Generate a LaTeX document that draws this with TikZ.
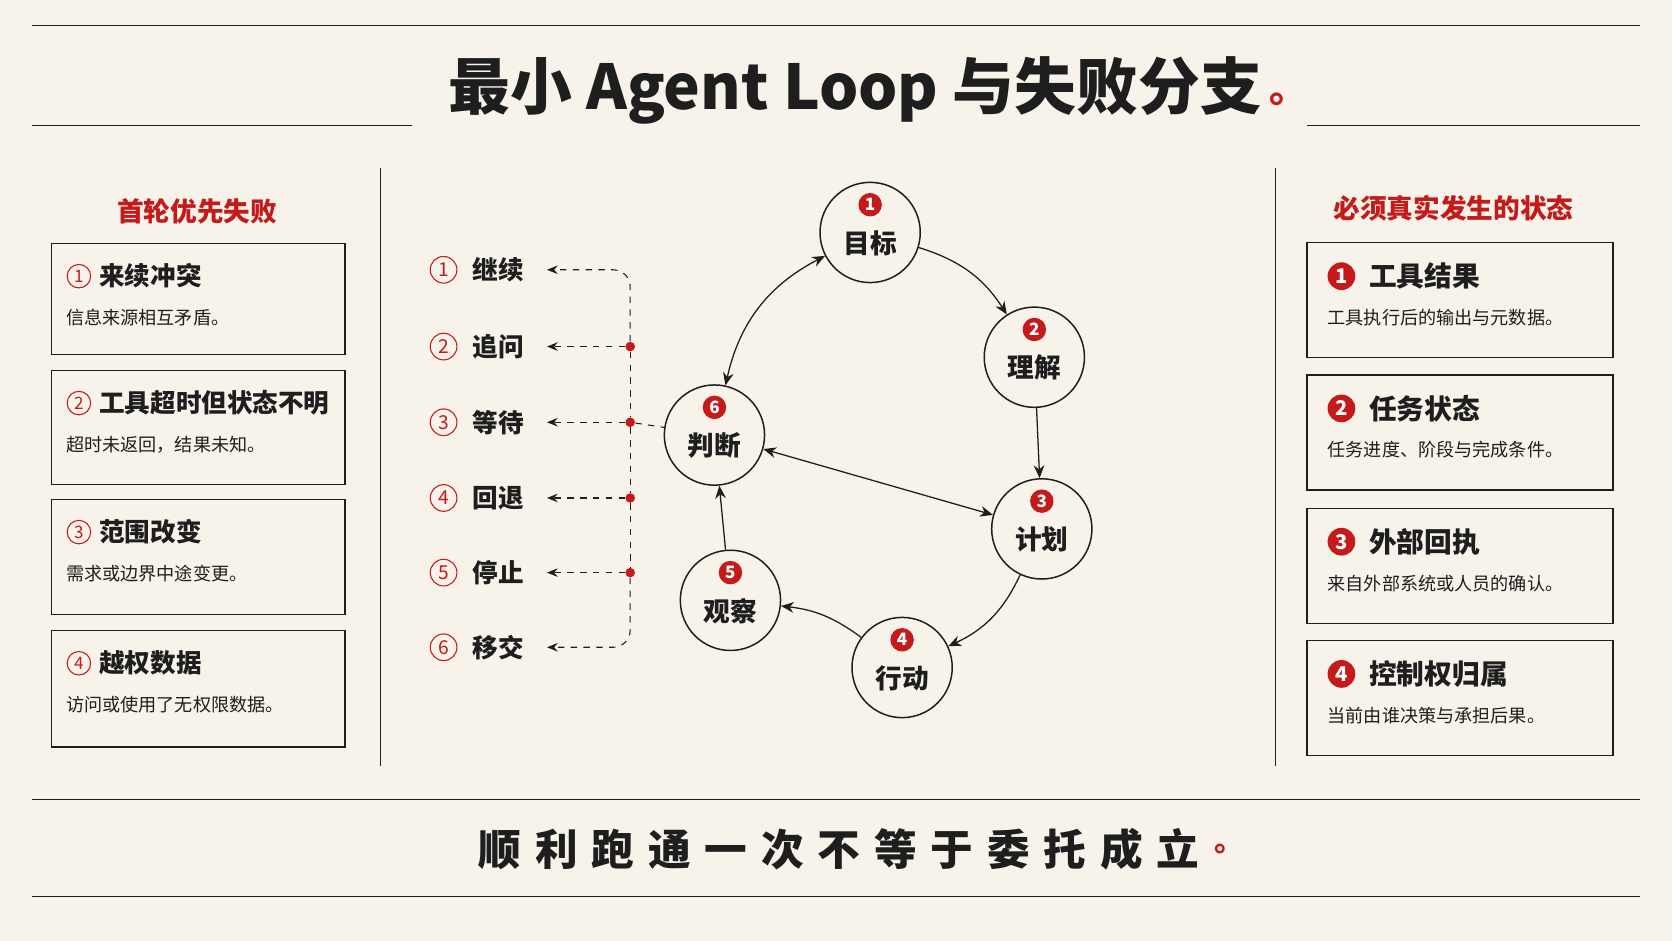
\documentclass[tikz,border=0pt]{standalone}
\usepackage{fontspec}
\setmainfont{Noto Sans CJK SC}
\usetikzlibrary{arrows.meta}
\definecolor{bg}{HTML}{F7F3EA}
\definecolor{rd}{HTML}{C41A1A}
\definecolor{ink}{HTML}{1E1E1E}
\begin{document}
\begin{tikzpicture}[x=0.5pt,y=-0.5pt,
  rule/.style={ink,line width=0.6pt},
  box/.style={draw=ink,line width=0.6pt,fill=bg,minimum width=137.5pt,anchor=north west},
  ring/.style={circle,draw=ink,line width=0.7pt,minimum size=47pt,inner sep=0},
  badge/.style={circle,fill=rd,text=white,inner sep=0,minimum size=11pt,font=\bfseries\fontsize{8}{8}\selectfont},
  obadge/.style={circle,draw=rd,text=rd,line width=0.5pt,inner sep=0,minimum size=11pt,font=\fontsize{8}{8}\selectfont},
  nlab/.style={font=\bfseries\fontsize{12.5}{12.5}\selectfont,text=ink},
  ttl/.style={font=\bfseries\fontsize{12}{12}\selectfont,text=ink,anchor=west},
  dsc/.style={font=\fontsize{8.5}{8.5}\selectfont,text=ink,anchor=west},
  arr/.style={-{Stealth[length=6pt,width=5pt]},ink,line width=0.6pt},
  darr/.style={-{Stealth[length=5pt,width=4pt]},ink,dashed,line width=0.5pt},
  dline/.style={ink,dashed,line width=0.5pt},
  dot/.style={circle,fill=rd,inner sep=0,minimum size=4.5pt}]
\fill[bg] (0,0) rectangle (1568,882);
\useasboundingbox (0,0) rectangle (1568,882);
% title
\draw[rule] (30,24) -- (1538,24);
\draw[rule] (30,118) -- (386,118);
\draw[rule] (1226,118) -- (1538,118);
\node[font=\bfseries\fontsize{29}{29}\selectfont,text=ink] (title) at (802,85) {最小 Agent Loop 与失败分支};
\node[font=\bfseries\fontsize{18}{18}\selectfont,text=rd,anchor=west,inner sep=0] (tdot) at ([yshift=-4pt]title.east) {。};
% dividers
\draw[rule] (357,158) -- (357,718);
\draw[rule] (1196,158) -- (1196,718);
% left column
\node[font=\bfseries\fontsize{12.5}{12.5}\selectfont,text=rd] (lh) at (185,198) {首轮优先失败};
\foreach \i/\y/\h/\t/\d in {1/228/104/来续冲突/信息来源相互矛盾。,2/347/107/工具超时但状态不明/超时未返回，结果未知。,3/468/108/范围改变/需求或边界中途变更。,4/591/109/越权数据/访问或使用了无权限数据。}{
  \node[box,minimum height=\h*0.5pt] (lb\i) at (48,\y) {};
  \node[obadge] (lbn\i) at (74,\y+31) {\i};
  \node[ttl] (lbt\i) at (86,\y+31) {\t};
  \node[dsc] (lbd\i) at (55,\y+70) {\d};
}
% right column
\node[font=\bfseries\fontsize{12.5}{12.5}\selectfont,text=rd] (rh) at (1363,195) {必须真实发生的状态};
\foreach \i/\y/\t/\d in {1/227/工具结果/工具执行后的输出与元数据。,2/351/任务状态/任务进度、阶段与完成条件。,3/476/外部回执/来自外部系统或人员的确认。,4/600/控制权归属/当前由谁决策与承担后果。}{
  \node[box,minimum width=143.5pt,minimum height=54pt] (rb\i) at (1225,\y) {};
  \node[badge,minimum size=13pt,font=\bfseries\fontsize{9.5}{9.5}\selectfont] (rbn\i) at (1258,\y+32) {\i};
  \node[ttl,font=\bfseries\fontsize{13}{13}\selectfont] (rbt\i) at (1277,\y+32) {\t};
  \node[dsc] (rbd\i) at (1238,\y+71) {\d};
}
% list
\foreach \i/\y/\t in {1/253/继续,2/325/追问,3/396/等待,4/467/回退,5/537/停止,6/607/移交}{
  \node[obadge,minimum size=12.5pt,font=\fontsize{9}{9}\selectfont] (ln\i) at (416,\y) {\i};
  \node[nlab,anchor=west,font=\bfseries\fontsize{12}{12}\selectfont] (lt\i) at (436,\y) {\t};
  \coordinate (la\i) at (513,\y);
}
\foreach \i/\y in {2/325,3/396,4/467,5/537}{
  \node[dot] (d\i) at (591,\y) {};
}
\draw[dline] (d2) -- (d3) -- (d4) -- (d5);
\draw[darr,rounded corners=8pt] (d2.north) -- (591,253) -- (la1);
\draw[darr,rounded corners=8pt] (d5.south) -- (591,607) -- (la6);
\foreach \i in {2,3,4,5}{
  \draw[darr] (d\i) -- (la\i);
}
% loop nodes
\foreach \n/\x/\y/\k/\t in {g/816/218/1/目标,u/970/335/2/理解,p/977/496/3/计划,a/846/626/4/行动,o/685/563/5/观察,j/670/408/6/判断}{
  \node[ring] (\n) at (\x,\y) {};
  \node[badge] (\n b) at (\x,\y-26) {\k};
  \node[nlab] (\n t) at (\x,\y+10) {\t};
}
\draw[dline] (d3) -- (j);
\draw[arr] (g) to[bend left=20] (u);
\draw[arr] (u) -- (p);
\draw[arr] (p) to[bend left=20] (a);
\draw[arr] (a) to[bend right=15] (o);
\draw[arr] (o) -- (j);
\draw[arr,{Stealth[length=6pt,width=5pt]}-{Stealth[length=6pt,width=5pt]}] (j) to[bend left=25] (g);
\draw[arr,{Stealth[length=6pt,width=5pt]}-{Stealth[length=6pt,width=5pt]}] (j) -- (p);
% bottom
\draw[rule] (30,750) -- (1538,750);
\draw[rule] (30,841) -- (1538,841);
\node[font=\bfseries\fontsize{20}{20}\selectfont,text=ink] (bt) at (787,796) {顺\hspace{6.5pt}利\hspace{6.5pt}跑\hspace{6.5pt}通\hspace{6.5pt}一\hspace{6.5pt}次\hspace{6.5pt}不\hspace{6.5pt}等\hspace{6.5pt}于\hspace{6.5pt}委\hspace{6.5pt}托\hspace{6.5pt}成\hspace{6.5pt}立};
\node[font=\bfseries\fontsize{14}{14}\selectfont,text=rd,anchor=west] (bdot) at (bt.east) {。};
\end{tikzpicture}
\end{document}
